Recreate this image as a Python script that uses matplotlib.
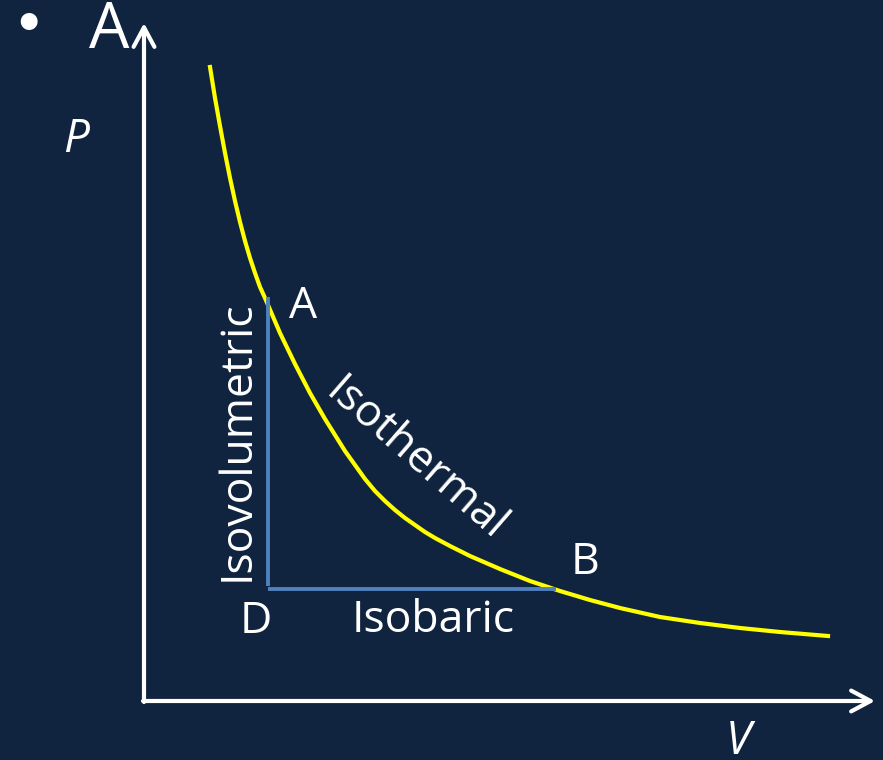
import matplotlib.pyplot as plt

# slide colours
bg = '#10243f'
yellow = '#ffff00'
blue = '#4f81bd'

plt.rcParams['font.family'] = ['Open Sans', 'DejaVu Sans']

# isotherm (V, P in picture units, origin at the axes corner)
iso_v = [66, 71, 76, 81, 86, 91, 96, 101, 106, 111, 116, 121, 136, 151, 166, 181,
         191, 201, 211, 221, 231, 241, 251, 261, 271, 281, 291, 306, 326, 356, 386,
         416, 446, 476, 516, 556, 596, 636, 684]
iso_p = [634, 603, 575, 548, 523, 500, 479, 460, 443, 428, 414, 403, 368, 337, 308, 282,
         266, 250, 236, 222, 210, 200, 191, 183, 176, 169, 163, 155, 145, 132, 120,
         110, 101, 93, 84, 78, 73, 69, 65]

# the A -> D -> B path
isochoric_v = [124, 124]
isochoric_p = [404, 115]
isobaric_v = [124, 412]
isobaric_p = [112, 112]

fig = plt.figure(figsize=(8.83, 7.60), dpi=100)
fig.patch.set_facecolor(bg)
ax = fig.add_axes([0, 0, 1, 1])
ax.set_facecolor(bg)
ax.set_xlim(-144, 739)
ax.set_ylim(-59, 701)
ax.axis('off')

# axes with open arrow heads
arrow = dict(arrowstyle='->,head_length=1.4,head_width=0.75',
             color='white', lw=3.0, shrinkA=0, shrinkB=0)
ax.annotate('', xy=(0, 678), xytext=(0, -1), arrowprops=arrow)
ax.annotate('', xy=(731, 0), xytext=(-1, 0), arrowprops=arrow)

ax.plot(iso_v, iso_p, color=yellow, lw=3.0, solid_joinstyle='round')
ax.plot(isochoric_v, isochoric_p, color=blue, lw=2.8, solid_capstyle='butt')
ax.plot(isobaric_v, isobaric_p, color=blue, lw=2.8, solid_capstyle='butt')

# slide text
ax.text(-116, 674, '\u2022', color='white', fontsize=42, ha='center', va='center',
        family=['DejaVu Sans'])
ax.text(-35, 670, 'A', color='white', fontsize=46, ha='center', va='center')
ax.text(-68, 561, 'P', color='white', fontsize=33, style='italic', ha='center', va='center')
ax.text(594, -41, 'V', color='white', fontsize=33, style='italic', ha='center', va='center')

lab = dict(color='white', fontsize=32, ha='center', va='center')
ax.text(159, 394, 'A', **lab)
ax.text(441, 138, 'B', **lab)
ax.text(112, 79, 'D', **lab)
ax.text(289, 80, 'Isobaric', **lab)
ax.text(93, 260, 'Isovolumetric', rotation=90, **lab)
ax.text(271, 241, 'Isothermal', rotation=-41, rotation_mode='anchor', **lab)

fig.savefig('out.png', dpi=100, facecolor=bg)
